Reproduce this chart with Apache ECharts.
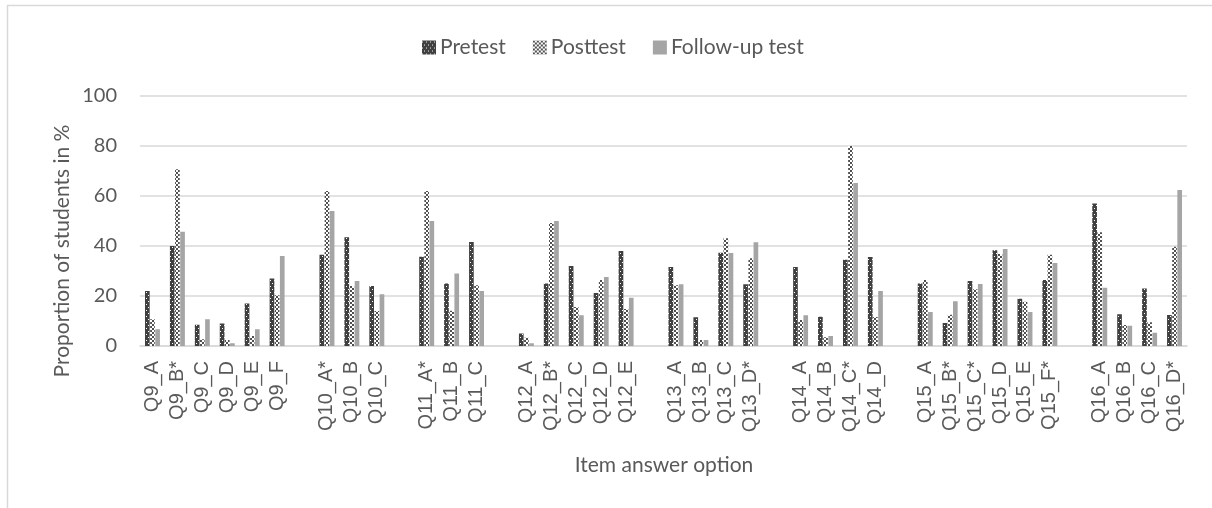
<!DOCTYPE html>
<html>
<head>
<meta charset="utf-8">
<script src="https://cdn.jsdelivr.net/npm/echarts@6/dist/echarts.min.js"></script>
<style>
html,body{margin:0;padding:0;background:#fff;}
#chart{width:1212px;height:508px;}
</style>
</head>
<body>
<div id="chart"></div>
<script>
var categories = ['Q9_A','Q9_B*','Q9_C','Q9_D','Q9_E','Q9_F','',
  'Q10_A*','Q10_B','Q10_C','',
  'Q11_A*','Q11_B','Q11_C','',
  'Q12_A','Q12_B*','Q12_C','Q12_D','Q12_E','',
  'Q13_A','Q13_B','Q13_C','Q13_D*','',
  'Q14_A','Q14_B','Q14_C*','Q14_D','',
  'Q15_A','Q15_B*','Q15_C*','Q15_D','Q15_E','Q15_F*','',
  'Q16_A','Q16_B','Q16_C','Q16_D*'];
var pretest = [22,40,8.5,9,17,27,null,
  36.5,43.5,24,null,
  35.7,25,41.6,null,
  5,25,32,21.2,38,null,
  31.6,11.5,37.3,24.7,null,
  31.6,11.7,34.5,35.6,null,
  25,9.2,26,38.3,18.9,26.4,null,
  57,12.7,23,12.4];
var posttest = [10.7,70.7,2.7,2.4,4,20.3,null,
  62,24,14,null,
  62,14.1,24.3,null,
  3.3,49.2,15.6,26.4,14.8,null,
  24.3,2.4,43.1,35.1,null,
  10.4,3.5,80,11.6,null,
  26.4,12.5,22.7,36.8,17.7,36.5,null,
  45.5,8.4,9.5,39.7];
var followup = [6.7,45.7,10.7,1.1,6.7,36,null,
  54,26,20.7,null,
  50,29,22,null,
  1.1,50,12.3,27.6,19.3,null,
  24.7,2.4,37.2,41.5,null,
  12.3,4,65.2,22,null,
  13.6,17.9,24.8,38.8,13.6,33.2,null,
  23.3,8.1,5.3,62.4];
var seriesNames = ['Pretest','Posttest','Follow-up test'];
var yTicks = [0,20,40,60,80,100];

function makePattern(kind){
  var c = document.createElement('canvas');
  var ctx = c.getContext('2d');
  if(kind === 'pre'){
    c.width = 4; c.height = 6;
    ctx.fillStyle = '#404040'; ctx.fillRect(0,0,4,6);
    ctx.fillStyle = '#ffffff';
    ctx.fillRect(0,1,1,1);
    ctx.fillRect(2,4,1,1);
  } else {
    c.width = 4; c.height = 4;
    ctx.fillStyle = '#ffffff'; ctx.fillRect(0,0,4,4);
    ctx.fillStyle = '#505050';
    ctx.fillRect(0,0,2,2);
    ctx.fillRect(2,2,2,2);
  }
  return c;
}

var chart = echarts.init(document.getElementById('chart'), null, {renderer:'canvas'});
var txt = '#595959';
var option = {
  animation:false,
  backgroundColor:'#fff',
  legend:{
    data:seriesNames,
    left:417, top:32,
    itemWidth:14, itemHeight:14, itemGap:27,
    icon:'rect',
    textStyle:{fontFamily:'Lato', fontSize:21, color:txt, padding:[0,0,0,-1]}
  },
  grid:{left:140, right:25, top:96, bottom:162},
  xAxis:{
    type:'category',
    data:categories,
    axisLine:{show:true, lineStyle:{color:'#d9d9d9', width:1.5}},
    axisTick:{show:false},
    axisLabel:{interval:0, rotate:90, margin:15, fontFamily:'Liberation Sans', fontSize:20, color:txt}
  },
  yAxis:{
    type:'value', min:0, max:100, interval:20,
    axisLine:{show:false}, axisTick:{show:false},
    splitLine:{lineStyle:{color:'#d9d9d9', width:1.5}},
    axisLabel:{margin:23, fontFamily:'Lato', fontSize:20, color:txt,
      formatter:function(v){ return yTicks.indexOf(v) >= 0 ? String(v) : ''; }}
  },
  graphic:[
    {type:'rect', shape:{x:7.5, y:5.5, width:1300, height:700}, style:{fill:'none', stroke:'#d9d9d9', lineWidth:1.5}, silent:true},
    {type:'text', x:62, y:251, rotation:Math.PI/2, style:{text:'Proportion of students in %', fontFamily:'Lato', fontSize:21, fill:txt, align:'center', verticalAlign:'middle'}},
    {type:'text', x:664, y:465, style:{text:'Item answer option', fontFamily:'Lato', fontSize:21, fill:txt, align:'center', verticalAlign:'middle'}}
  ],
  series:[
    {name:seriesNames[0], type:'bar', data:pretest, barGap:'10%', barCategoryGap:'40%',
      itemStyle:{color:{image:makePattern('pre'), repeat:'repeat'}}},
    {name:seriesNames[1], type:'bar', data:posttest, barGap:'10%', barCategoryGap:'40%',
      itemStyle:{color:{image:makePattern('post'), repeat:'repeat'}}},
    {name:seriesNames[2], type:'bar', data:followup, barGap:'10%', barCategoryGap:'40%',
      itemStyle:{color:'#a5a5a5'}}
  ]
};
chart.setOption(option);
</script>
</body>
</html>
